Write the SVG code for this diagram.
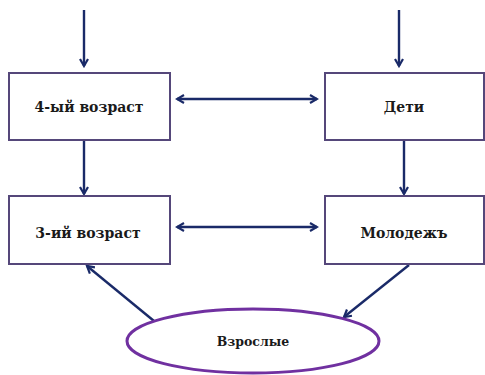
<svg xmlns="http://www.w3.org/2000/svg" width="485" height="375" viewBox="0 0 485 375">
<defs>
<marker id="ah" markerWidth="10" markerHeight="10" refX="8" refY="5" orient="auto-start-reverse" markerUnits="userSpaceOnUse">
<path d="M1,1 L8,5 L1,9" fill="none" stroke="#1a2a68" stroke-width="2.2" stroke-linejoin="miter"/>
</marker>
<style>
.box{fill:#fff;stroke:#55477a;stroke-width:2}
.t{font-family:'DejaVu Serif',serif;font-weight:bold;font-size:14px;fill:#1a1a1a;text-anchor:middle}
.c{stroke:#1a2a68;stroke-width:2.4;fill:none}
</style>
</defs>
<rect width="485" height="375" fill="#fff"/>
<g id="connectors">
<line class="c" x1="84" y1="10" x2="84" y2="66" marker-end="url(#ah)"/>
<line class="c" x1="399" y1="10" x2="399" y2="66" marker-end="url(#ah)"/>
<line class="c" x1="177" y1="99" x2="317" y2="99" marker-start="url(#ah)" marker-end="url(#ah)"/>
<line class="c" x1="84" y1="141" x2="84" y2="194" marker-end="url(#ah)"/>
<line class="c" x1="404" y1="141" x2="404" y2="194" marker-end="url(#ah)"/>
<line class="c" x1="177" y1="227" x2="317" y2="227" marker-start="url(#ah)" marker-end="url(#ah)"/>
<line class="c" x1="154" y1="321" x2="87" y2="266" marker-end="url(#ah)"/>
<line class="c" x1="409" y1="265" x2="344" y2="317" marker-end="url(#ah)"/>
</g>
<g id="n1">
<rect class="box" x="9" y="73" width="161" height="67"/>
<text class="t" x="89" y="112">4-ый возраст</text>
</g>
<g id="n2">
<rect class="box" x="325" y="73" width="159" height="67"/>
<text class="t" x="404" y="112">Дети</text>
</g>
<g id="n3">
<rect class="box" x="9" y="196" width="161" height="68"/>
<text class="t" x="88" y="238">3-ий возраст</text>
</g>
<g id="n4">
<rect class="box" x="325" y="196" width="159" height="68"/>
<text class="t" x="404" y="238">Молодежъ</text>
</g>
<g id="n5">
<ellipse cx="253" cy="341" rx="126" ry="32" fill="#fff" stroke="#7030a0" stroke-width="3"/>
<text class="t" x="253" y="346" style="font-size:12.5px">Взрослые</text>
</g>
</svg>
